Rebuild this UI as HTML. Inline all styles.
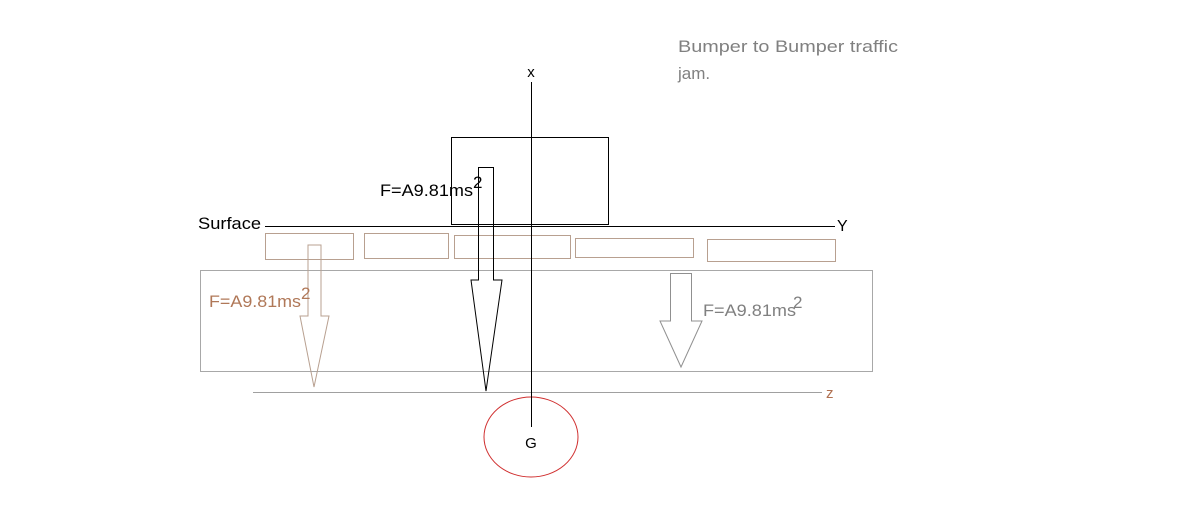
<!DOCTYPE html>
<html><head><meta charset="utf-8"><style>
html,body{margin:0;padding:0;background:#fff;}
svg{display:block;}
text{font-family:"Liberation Sans",sans-serif;}
</style></head><body>
<svg width="1200" height="508" viewBox="0 0 1200 508" xmlns="http://www.w3.org/2000/svg">
<text x="678" y="52" font-size="17" fill="#808080" textLength="220" lengthAdjust="spacingAndGlyphs">Bumper to Bumper traffic</text>
<text x="678" y="79" font-size="17" fill="#808080">jam.</text>
<text x="531" y="77" font-size="15" fill="#000" text-anchor="middle">x</text>
<rect x="200.5" y="270.5" width="672" height="101" fill="none" stroke="#a8a8a8" stroke-width="1"/>
<g fill="none" stroke="#b8a090" stroke-width="1">
<rect x="265.5" y="233.5" width="88" height="26"/>
<rect x="364.5" y="233.5" width="84" height="25"/>
<rect x="454.5" y="235.5" width="116" height="23"/>
<rect x="575.5" y="238.5" width="118" height="19"/>
<rect x="707.5" y="239.5" width="128" height="22"/>
</g>
<rect x="451.5" y="137.5" width="157" height="87" fill="none" stroke="#000" stroke-width="1"/>
<line x1="265" y1="226.5" x2="835" y2="226.5" stroke="#000"/>
<text x="198" y="229" font-size="17" fill="#000" textLength="63" lengthAdjust="spacingAndGlyphs">Surface</text>
<text x="837" y="231" font-size="16" fill="#000">Y</text>
<line x1="253" y1="392.5" x2="822" y2="392.5" stroke="#a0a0a0"/>
<text x="826" y="398" font-size="15" fill="#b07050">z</text>
<ellipse cx="531" cy="437" rx="47" ry="40" fill="none" stroke="#d03030" stroke-width="1"/>
<text x="531" y="448" font-size="15" fill="#000" text-anchor="middle">G</text>
<line x1="531.5" y1="82" x2="531.5" y2="427" stroke="#000"/>
<polygon points="308,245 321,245 321,316 329,316 314,387 300,316 308,316" fill="none" stroke="#b8a090"/>
<polygon points="478.5,167.5 493.5,167.5 493.5,280 502,280 486,391 471,280 478.5,280" fill="none" stroke="#000"/>
<polygon points="670.5,273.5 691.5,273.5 691.5,321 702,321 681,367 660,321 670.5,321" fill="none" stroke="#909090"/>
<text x="380" y="196" font-size="17" fill="#000" textLength="93" lengthAdjust="spacingAndGlyphs">F=A9.81ms</text><text x="473" y="188" font-size="17" fill="#000">2</text>
<text x="209" y="307" font-size="17" fill="#b07858" textLength="92" lengthAdjust="spacingAndGlyphs">F=A9.81ms</text><text x="301" y="299" font-size="17" fill="#b07858">2</text>
<text x="703" y="316" font-size="17" fill="#808080" textLength="93" lengthAdjust="spacingAndGlyphs">F=A9.81ms</text><text x="793" y="308" font-size="17" fill="#808080">2</text>
</svg>
</body></html>
